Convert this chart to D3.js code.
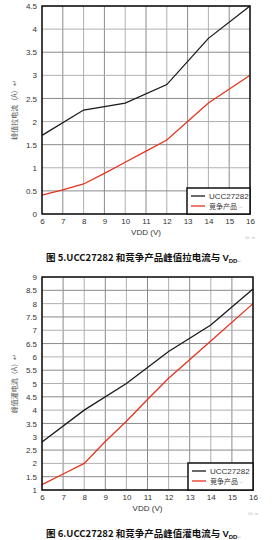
<!DOCTYPE html>
<html><head><meta charset="utf-8">
<script src="https://cdn.jsdelivr.net/npm/d3@7"></script>
<style>
body{margin:0;background:#fff;}
svg{display:block;}
</style></head>
<body>
<svg id="c" width="280" height="540"></svg>
<script>
// Chart 1: peak source current
const vdd1Black = [6, 8, 10, 12, 14, 16];
const src1Black = [1.7, 2.25, 2.4, 2.8, 3.8, 4.5];
const vdd1Red = [6, 7, 8, 9, 10, 11, 12, 14, 16];
const src1Red = [0.41, 0.52, 0.65, 0.88, 1.12, 1.36, 1.6, 2.4, 3.0];
const yTicks1 = [0, 0.5, 1, 1.5, 2, 2.5, 3, 3.5, 4, 4.5];

// Chart 2: peak sink current
const vdd2Black = [6, 8, 10, 12, 14, 16];
const sink2Black = [2.8, 4.0, 5.0, 6.2, 7.2, 8.55];
const vdd2Red = [6, 7, 8, 9, 10, 11, 12, 14, 16];
const sink2Red = [1.2, 1.6, 2.0, 2.82, 3.58, 4.4, 5.2, 6.6, 8.0];
const yTicks2 = [1, 1.5, 2, 2.5, 3, 3.5, 4, 4.5, 5, 5.5, 6, 6.5, 7, 7.5, 8, 8.5, 9];

const xTicks = [6, 7, 8, 9, 10, 11, 12, 13, 14, 15, 16];
const seriesNames = ["UCC27282", "竞争产品"];
const colors = ["#1a1a1a", "#e8321e"];

const svg = d3.select("#c");
const fontLat = "'Liberation Sans', Arial, sans-serif";
const fontCJK = "'Noto Sans CJK SC', sans-serif";

function drawChart(cfg){
  const g = svg.append("g");
  const x = d3.scaleLinear().domain([6,16]).range([cfg.left, cfg.right]);
  const y = d3.scaleLinear().domain(cfg.yDomain).range([cfg.bottom, cfg.top]);

  // gridlines
  g.append("g").selectAll("line").data(xTicks).join("line")
    .attr("x1", d=>x(d)).attr("x2", d=>x(d)).attr("y1", cfg.top).attr("y2", cfg.bottom)
    .attr("stroke", (d,i)=> i%2 ? "#8a8a8a" : "#b0b0b0").attr("stroke-width", 1);
  g.append("g").selectAll("line").data(cfg.yTicks).join("line")
    .attr("x1", cfg.left).attr("x2", cfg.right).attr("y1", d=>y(d)).attr("y2", d=>y(d))
    .attr("stroke", (d,i)=> i%2 ? "#8a8a8a" : "#b0b0b0").attr("stroke-width", 1);

  // axes (labels only)
  const xa = g.append("g").attr("transform", `translate(0,${cfg.bottom})`)
    .call(d3.axisBottom(x).tickValues(xTicks).tickSize(0).tickPadding(4).tickFormat(d3.format("d")));
  xa.select(".domain").remove();
  xa.selectAll("text").attr("font-family", fontLat).attr("font-size", 8).attr("fill", "#333");

  const ya = g.append("g").attr("transform", `translate(${cfg.left},0)`)
    .call(d3.axisLeft(y).tickValues(cfg.yTicks).tickSize(0).tickPadding(5).tickFormat(d=>String(d)));
  ya.select(".domain").remove();
  ya.selectAll("text").attr("font-family", fontLat).attr("font-size", 8).attr("fill", "#333");

  // lines
  const line = d3.line().x(d=>x(d[0])).y(d=>y(d[1]));
  cfg.series.forEach((s,i)=>{
    g.append("path").datum(d3.zip(s.x, s.y))
      .attr("d", line).attr("fill","none").attr("stroke", colors[i]).attr("stroke-width", 1.3);
  });

  // frame
  g.append("rect").attr("x", cfg.left).attr("y", cfg.top)
    .attr("width", cfg.right-cfg.left).attr("height", cfg.bottom-cfg.top)
    .attr("fill","none").attr("stroke","#111").attr("stroke-width",1.5);

  // legend
  const lg = g.append("g");
  lg.append("rect").attr("x", cfg.legX).attr("y", cfg.legY)
    .attr("width", cfg.right - cfg.legX).attr("height", cfg.bottom - cfg.legY)
    .attr("fill","#fff").attr("stroke","#111").attr("stroke-width",1.5);
  seriesNames.forEach((n,i)=>{
    const ly = cfg.legY + 8 + i*10;
    lg.append("line").attr("x1", cfg.legX+4).attr("x2", cfg.legX+18).attr("y1", ly).attr("y2", ly)
      .attr("stroke", colors[i]).attr("stroke-width", 1.3);
    lg.append("text").attr("x", cfg.legX+22).attr("y", ly+3)
      .attr("font-family", i===0?fontLat:fontCJK).attr("font-size", i===0?8:7).attr("fill","#333")
      .text(n);
    if(i===1) lg.append("text").attr("x", cfg.legX+52).attr("y", ly+3)
      .attr("font-family", fontLat).attr("font-size", 4).attr("fill","#ccc").text("↵");
  });

  // x-axis title
  g.append("text").attr("x", (cfg.left+cfg.right)/2).attr("y", cfg.bottom+21)
    .attr("text-anchor","middle").attr("font-family", fontLat).attr("font-size", 8).attr("fill","#333")
    .text("VDD (V)");

  // y-axis title
  const cy = (cfg.top+cfg.bottom)/2;
  g.append("text").attr("transform", `translate(17,${cy}) rotate(-90)`)
    .attr("text-anchor","middle").attr("font-family", fontCJK).attr("font-size", 7).attr("fill","#555")
    .text(cfg.yLabel);

  // faint artifact
  g.append("text").attr("x", cfg.right-5).attr("y", cfg.bottom+25)
    .attr("font-family", fontLat).attr("font-size", 4).attr("fill","#bbb").text("00..m");

  // caption
  const cap = g.append("text").attr("x", 46).attr("y", cfg.capY)
    .attr("font-family", fontCJK).attr("font-size", 9.5).attr("font-weight","bold").attr("fill","#111");
  cap.append("tspan").text(cfg.caption);
  cap.append("tspan").attr("font-family", fontLat).text("V");
  cap.append("tspan").attr("font-family", fontLat).attr("font-size", 6).attr("dy", 2).text("DD");
  cap.append("tspan").attr("font-family", fontLat).attr("font-size", 5).attr("font-weight","normal").attr("fill","#bbb").text("↵");
}

drawChart({
  left: 42, right: 250, top: 6, bottom: 214, yDomain: [0, 4.5], yTicks: yTicks1,
  series: [{x: vdd1Black, y: src1Black}, {x: vdd1Red, y: src1Red}],
  legX: 187, legY: 188, yLabel: "峰值拉电流（A）↵",
  caption: "图 5.UCC27282 和竞争产品峰值拉电流与 ", capY: 261
});
drawChart({
  left: 42, right: 253, top: 277, bottom: 490, yDomain: [1, 9], yTicks: yTicks2,
  series: [{x: vdd2Black, y: sink2Black}, {x: vdd2Red, y: sink2Red}],
  legX: 188, legY: 463, yLabel: "峰值灌电流（A）↵",
  caption: "图 6.UCC27282 和竞争产品峰值灌电流与 ", capY: 537
});
</script>
</body></html>
